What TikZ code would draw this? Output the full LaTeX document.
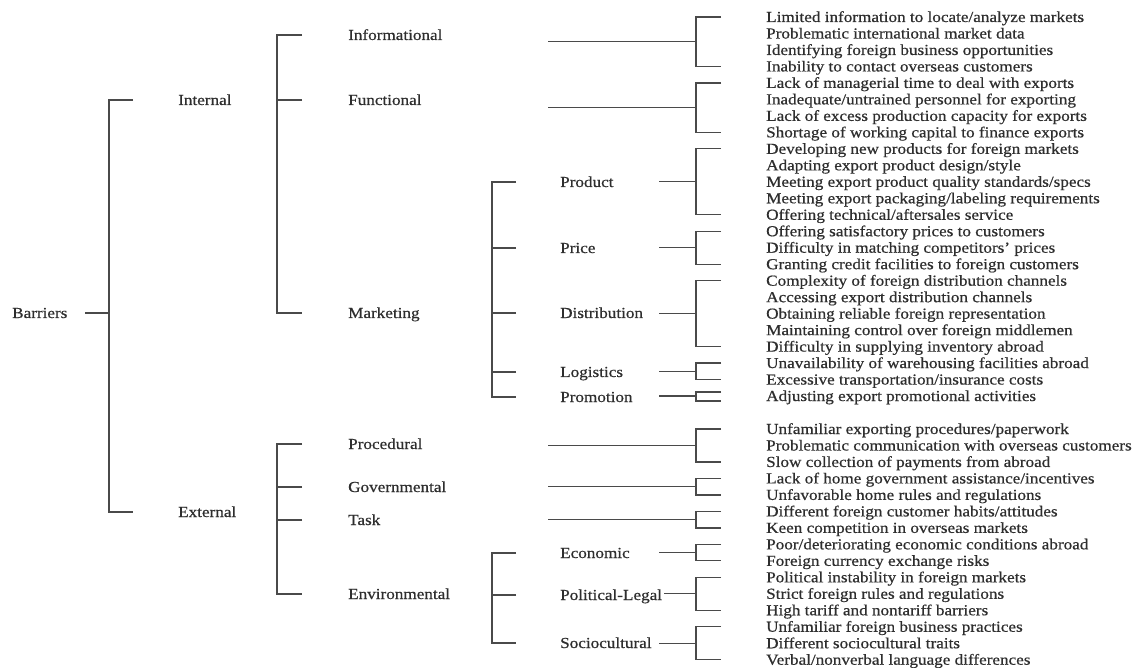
\documentclass[tikz,border=0pt]{standalone}
\usepackage{fontspec}
\setmainfont[FakeStretch=1.12,FakeBold=0.6]{Liberation Serif}
\usetikzlibrary{calc}
\definecolor{ink}{HTML}{2E2E2E}
\definecolor{wire}{HTML}{4A4A4A}
\begin{document}
\begin{tikzpicture}[x=1pt,y=-1pt,
  lbl/.style={anchor=west,inner sep=0pt,text=ink,
    font=\fontsize{15.3}{16}\selectfont,text height=10pt,text depth=0pt},
  ln/.style={draw=wire,line width=1.25pt}]
\useasboundingbox (0,0) rectangle (1146,668);

% category labels
\node[lbl] (bar)   at (12,313)  {Barriers};
\node[lbl] (int)   at (178,100) {Internal};
\node[lbl] (ext)   at (178,512) {External};
\node[lbl] (info)  at (348,35)  {Informational};
\node[lbl] (func)  at (348,100) {Functional};
\node[lbl] (mkt)   at (348,313) {Marketing};
\node[lbl] (proc)  at (348,444) {Procedural};
\node[lbl] (gov)   at (348,487) {Governmental};
\node[lbl] (task)  at (348,520) {Task};
\node[lbl] (env)   at (348,594) {Environmental};
\node[lbl] (prod)  at (560,182) {Product};
\node[lbl] (price) at (560,248) {Price};
\node[lbl] (dist)  at (560,313) {Distribution};
\node[lbl] (logi)  at (560,372) {Logistics};
\node[lbl] (promo) at (560,397) {Promotion};
\node[lbl] (econ)  at (560,553) {Economic};
\node[lbl] (pol)   at (560,595) {Political-Legal};
\node[lbl] (soc)   at (560,643) {Sociocultural};

% individual barriers, one per line
\foreach \i/\t in {
 0/{Limited information to locate/analyze markets},
 1/{Problematic international market data},
 2/{Identifying foreign business opportunities},
 3/{Inability to contact overseas customers},
 4/{Lack of managerial time to deal with exports},
 5/{Inadequate/untrained personnel for exporting},
 6/{Lack of excess production capacity for exports},
 7/{Shortage of working capital to finance exports},
 8/{Developing new products for foreign markets},
 9/{Adapting export product design/style},
 10/{Meeting export product quality standards/specs},
 11/{Meeting export packaging/labeling requirements},
 12/{Offering technical/aftersales service},
 13/{Offering satisfactory prices to customers},
 14/{Difficulty in matching competitors' prices},
 15/{Granting credit facilities to foreign customers},
 16/{Complexity of foreign distribution channels},
 17/{Accessing export distribution channels},
 18/{Obtaining reliable foreign representation},
 19/{Maintaining control over foreign middlemen},
 20/{Difficulty in supplying inventory abroad},
 21/{Unavailability of warehousing facilities abroad},
 22/{Excessive transportation/insurance costs},
 23/{Adjusting export promotional activities},
 25/{Unfamiliar exporting procedures/paperwork},
 26/{Problematic communication with overseas customers},
 27/{Slow collection of payments from abroad},
 28/{Lack of home government assistance/incentives},
 29/{Unfavorable home rules and regulations},
 30/{Different foreign customer habits/attitudes},
 31/{Keen competition in overseas markets},
 32/{Poor/deteriorating economic conditions abroad},
 33/{Foreign currency exchange risks},
 34/{Political instability in foreign markets},
 35/{Strict foreign rules and regulations},
 36/{High tariff and nontariff barriers},
 37/{Unfamiliar foreign business practices},
 38/{Different sociocultural traits},
 39/{Verbal/nonverbal language differences}}
  \node[lbl] (L\i) at (766,{17+16.48*\i}) {\t};

% top level: Barriers -> Internal / External
\coordinate (barS) at (85,0 |- bar.west);
\draw[ln] ([xshift=-45]int.west) -- ++(-24,0) |- ([xshift=-45]ext.west);
\draw[ln] (barS) -- ([xshift=-69]int.west |- bar.west);

% second level brackets
\draw[ln] ([xshift=-46]info.west) -- ++(-25,0) |- ([xshift=-46]mkt.west);
\draw[ln] ([xshift=-46]func.west) -- ++(-25,0);
\draw[ln] ([xshift=-46]proc.west) -- ++(-25,0) |- ([xshift=-46]env.west);
\draw[ln] ([xshift=-46]gov.west) -- ++(-25,0);
\draw[ln] ([xshift=-46]task.west) -- ++(-25,0);

% third level brackets
\draw[ln] ([xshift=-44]prod.west) -- ++(-24,0) |- ([xshift=-44]promo.west);
\foreach \n in {price,dist,logi}
  \draw[ln] ([xshift=-44]\n.west) -- ++(-24,0);
\draw[ln] ([xshift=-44]econ.west) -- ++(-24,0) |- ([xshift=-44]soc.west);
\draw[ln] ([xshift=-44]pol.west) -- ++(-24,0);

% leaf brackets with their stems
\foreach \a/\b/\sx in {0/3/548, 4/7/548, 8/12/659, 13/15/659, 16/20/659,
                       21/22/659, 25/27/548, 28/29/548, 30/31/548,
                       32/33/659, 37/39/659} {
  \draw[ln] ([xshift=-45]L\a.west) -- ++(-25,0) |- ([xshift=-45]L\b.west);
  \coordinate (m\a) at ($(L\a.west)!0.5!(L\b.west)+(-70,0)$);
  \draw[ln] (\sx,0 |- m\a) -- (m\a);
}
% political-legal: stem starts right after its label
\draw[ln] ([xshift=-45]L34.west) -- ++(-25,0) |- ([xshift=-45]L36.west);
\coordinate (m34) at ($(L34.west)!0.5!(L36.west)+(-70,0)$);
\draw[ln] ([xshift=2]pol.east |- m34) -- (m34);
% single-item bracket for promotion
\draw[ln] ([shift={(-45,-4)}]L23.west) -- ++(-25,0) |- ([shift={(-45,5)}]L23.west);
\coordinate (m23) at ([xshift=-70]L23.west);
\draw[ln] (659,0 |- m23) -- (m23);
\end{tikzpicture}
\end{document}
